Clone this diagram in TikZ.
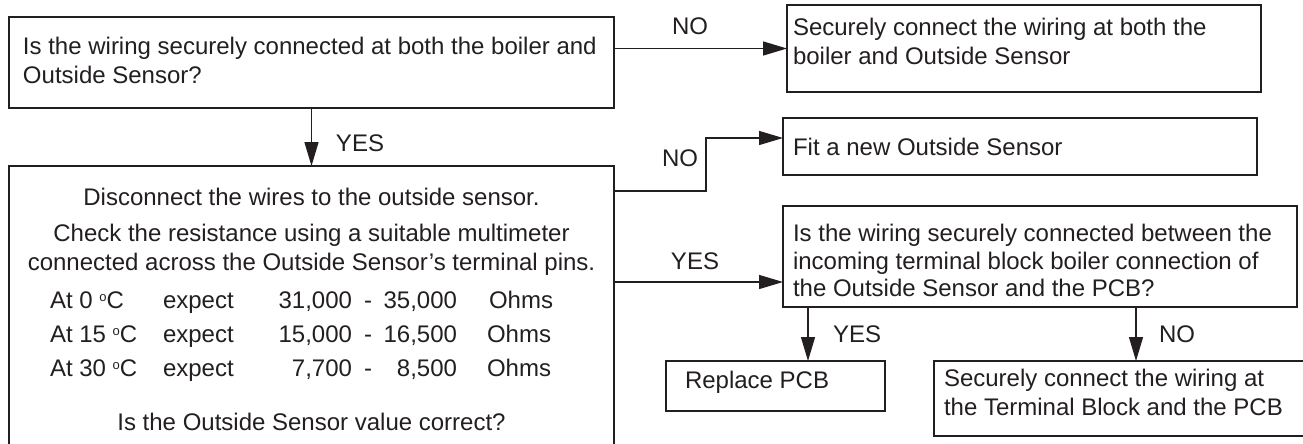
\documentclass[tikz,border=0pt]{standalone}
\usepackage{fontspec}
\setmainfont{Liberation Sans}
\usetikzlibrary{arrows.meta,calc}
\definecolor{ink}{HTML}{231F20}
\newcommand{\degc}{\raisebox{0.55ex}{\fontsize{13}{13}\selectfont o}C}
\begin{document}
\begin{tikzpicture}[x=1pt,y=-1pt,
  box/.style={draw=ink,line width=1.3pt,inner sep=0pt,outer sep=0pt,anchor=north west},
  txt/.style={inner sep=0pt,outer sep=0pt,text=ink,font=\fontsize{24}{27.5}\selectfont},
  tl/.style={txt,anchor=base west},
  tc/.style={txt,anchor=base},
  arr/.style={draw=ink,line width=1.3pt,-{Triangle[length=24pt,width=14pt]}}]
\useasboundingbox[fill=white] (0,0) rectangle (1303,444);
% boxes
\node[box,minimum width=605pt,minimum height=91pt] (b1) at (9,17) {};
\node[box,minimum width=474pt,minimum height=87pt] (b2) at (787,5) {};
\node[box,minimum width=605pt,minimum height=284pt] (b3) at (9,166) {};
\node[box,minimum width=474pt,minimum height=57pt] (b4) at (783,118) {};
\node[box,minimum width=514pt,minimum height=101pt] (b5) at (783,206) {};
\node[box,minimum width=219pt,minimum height=50pt] (b6) at (666,361) {};
\node[box,minimum width=371pt,minimum height=75pt] (b7) at (934,361) {};
% texts
\node[tl] (t1a) at (23,55) {Is the wiring securely connected at both the boiler and};
\node[tl] (t1b) at (23,83) {Outside Sensor?};
\node[tl] (t2a) at (793,36) {Securely connect the wiring at both the};
\node[tl] (t2b) at (793,65) {boiler and Outside Sensor};
\node[tl] (t4) at (793,155) {Fit a new Outside Sensor};
\node[tl] (t5a) at (793,241) {Is the wiring securely connected between the};
\node[tl] (t5b) at (793,269) {incoming terminal block boiler connection of};
\node[tl] (t5c) at (793,296) {the Outside Sensor and the PCB?};
\node[tl] (t6) at (685,388) {Replace PCB};
\node[tl] (t7a) at (944,386) {Securely connect the wiring at};
\node[tl] (t7b) at (944,415) {the Terminal Block and the PCB};
\node[tc] (t3a) at (311.5,205) {Disconnect the wires to the outside sensor.};
\node[tc] (t3b) at (311.5,241) {Check the resistance using a suitable multimeter};
\node[tc] (t3c) at (311.5,270) {connected across the Outside Sensor’s terminal pins.};
\node[tl] (r1a) at (50,308) {At 0 \degc};
\node[tl] (r1b) at (163,308) {expect};
\node[txt,anchor=base east] (r1c) at (352,308) {31,000};
\node[tl] (r1d) at (364,308) {-};
\node[txt,anchor=base east] (r1e) at (457,308) {35,000};
\node[tl] (r1f) at (489,308) {Ohms};
\node[tl] (r2a) at (50,342) {At 15 \degc};
\node[tl] (r2b) at (163,342) {expect};
\node[txt,anchor=base east] (r2c) at (352,342) {15,000};
\node[tl] (r2d) at (364,342) {-};
\node[txt,anchor=base east] (r2e) at (457,342) {16,500};
\node[tl] (r2f) at (487,342) {Ohms};
\node[tl] (r3a) at (50,376) {At 30 \degc};
\node[tl] (r3b) at (163,376) {expect};
\node[txt,anchor=base east] (r3c) at (352,376) {7,700};
\node[tl] (r3d) at (364,376) {-};
\node[txt,anchor=base east] (r3e) at (457,376) {8,500};
\node[tl] (r3f) at (487,376) {Ohms};
\node[tc] (t3d) at (311.5,430) {Is the Outside Sensor value correct?};
% labels
\node[tc] (l1) at (690,35) {NO};
\node[tc] (l2) at (360,151) {YES};
\node[tc] (l3) at (680,166) {NO};
\node[tc] (l4) at (695,269) {YES};
\node[tc] (l5) at (857,342) {YES};
\node[tc] (l6) at (1177,342) {NO};
% connectors
\draw[arr] (b1.east |- b2.west) -- (b2.west);
\draw[arr] (b1.south) -- (b3.north);
\coordinate (e1) at ($(b3.north east)+(92,25)$);
\draw[arr] (b3.north east |- e1) -- (e1) |- ($(b4.west)+(0,-8.5)$);
\coordinate (y1) at ($(b5.south west)+(0,-25)$);
\draw[arr] (b3.east |- y1) -- (y1);
\coordinate (d1) at ($(b5.south west)+(25,0)$);
\draw[arr] (d1) -- (d1 |- b6.north);
\coordinate (d2) at ($(b5.south west)+(353,0)$);
\draw[arr] (d2) -- (d2 |- b7.north);
\end{tikzpicture}
\end{document}
